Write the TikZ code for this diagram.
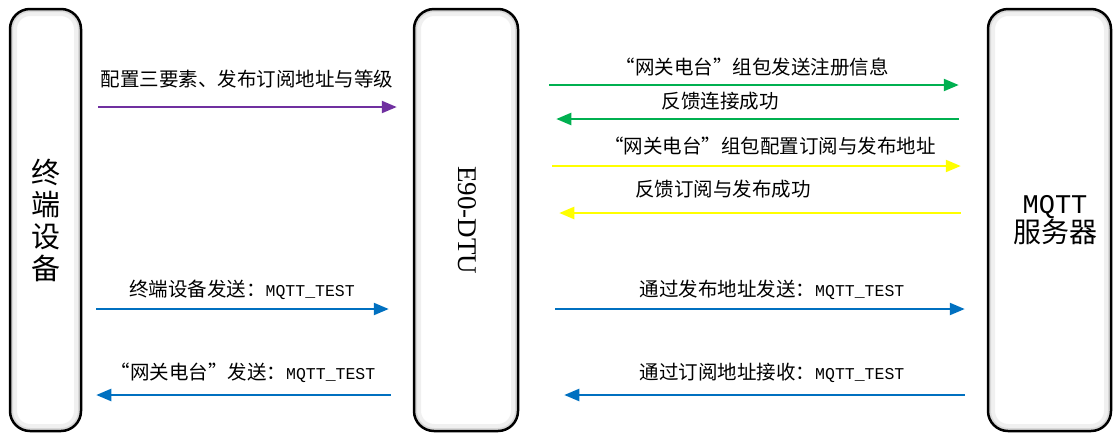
\documentclass[tikz,border=0pt]{standalone}
\usepackage{fontspec}
\usetikzlibrary{arrows.meta}
\newfontfamily\cjk{Noto Sans CJK SC}
\newfontfamily\mono{Liberation Mono}
\newfontfamily\serifrm{Liberation Serif}

\definecolor{msgpurple}{HTML}{7030A0}
\definecolor{msggreen}{HTML}{00B050}
\definecolor{msgyellow}{HTML}{FFFF00}
\definecolor{msgblue}{HTML}{0070C0}

\tikzset{
  party/.style={draw=black, line width=2.5pt, fill=white, rounded corners=20pt,
    minimum height=422pt, inner sep=0pt,
    path picture={
      \draw[gray!12, line width=14pt, rounded corners=20pt]
        (path picture bounding box.south west) rectangle (path picture bounding box.north east);
      \draw[gray!30, line width=6pt, rounded corners=20pt]
        (path picture bounding box.south west) rectangle (path picture bounding box.north east);
    }},
  msg/.style={line width=2.3pt, -{Triangle[length=15pt,width=12pt]}},
  lbl/.style={inner sep=0pt, font=\cjk\fontsize{19.5}{22}\selectfont},
}

\begin{document}
\begin{tikzpicture}[x=1pt, y=-1pt]
  \useasboundingbox (0,0) rectangle (1113,432);

  % --- Define nodes ---
  \node[party, minimum width=71pt] (term) at (45.5,220) {};
  \node[party, minimum width=104pt] (dtu) at (466,220) {};
  \node[party, minimum width=123pt] (server) at (1049.5,220) {};

  % --- Box titles ---
  \node[align=center, inner sep=0pt, font=\cjk\fontsize{29}{32}\selectfont] (termtxt) at (term) {终\\端\\设\\备};
  \node[rotate=-90, inner sep=0pt, font=\serifrm\fontsize{27}{30}\selectfont] (dtutxt) at (467,220) {E90-DTU};
  \node[align=center, inner sep=0pt] (servertxt) at (1055,220)
    {{\mono\fontsize{27}{34}\selectfont MQTT}\\{\cjk\fontsize{28}{34}\selectfont 服务器}};

  % --- Terminal <-> DTU ---
  \draw[msg, msgpurple, shorten <=16pt, shorten >=16pt] (term.east |- 0,107) -- (dtu.west |- 0,107);
  \node[lbl] (cfg) at (247,79) {配置三要素、发布订阅地址与等级};

  \draw[msg, msgblue, shorten <=14pt, shorten >=24pt] (term.east |- 0,309) -- (dtu.west |- 0,309);
  \node[lbl] (tsend) at (242,290) {终端设备发送：{\mono\fontsize{16.5}{20}\selectfont MQTT\_TEST}};

  \draw[msg, msgblue, shorten <=22pt, shorten >=14pt] (dtu.west |- 0,395) -- (term.east |- 0,395);
  \node[lbl] (gsend) at (243,373) {“网关电台”发送：{\mono\fontsize{16.5}{20}\selectfont MQTT\_TEST}};

  % --- DTU <-> MQTT server ---
  \draw[msg, msggreen, shorten <=30pt, shorten >=28pt] (dtu.east |- 0,85) -- (server.west |- 0,85);
  \node[lbl] (reg) at (752,67) {“网关电台”组包发送注册信息};

  \draw[msg, msggreen, shorten <=28pt, shorten >=37pt] (server.west |- 0,119) -- (dtu.east |- 0,119);
  \node[lbl] (regok) at (720,101) {反馈连接成功};

  \draw[msg, msgyellow, shorten <=33pt, shorten >=26pt] (dtu.east |- 0,166) -- (server.west |- 0,166);
  \node[lbl] (sub) at (770,146) {“网关电台”组包配置订阅与发布地址};

  \draw[msg, msgyellow, shorten <=26pt, shorten >=40pt] (server.west |- 0,213) -- (dtu.east |- 0,213);
  \node[lbl] (subok) at (723,189) {反馈订阅与发布成功};

  \draw[msg, msgblue, shorten <=36pt, shorten >=22pt] (dtu.east |- 0,309) -- (server.west |- 0,309);
  \node[lbl] (pub) at (772,290) {通过发布地址发送：{\mono\fontsize{16.5}{20}\selectfont MQTT\_TEST}};

  \draw[msg, msgblue, shorten <=22pt, shorten >=45pt] (server.west |- 0,395) -- (dtu.east |- 0,395);
  \node[lbl] (recv) at (772,373) {通过订阅地址接收：{\mono\fontsize{16.5}{20}\selectfont MQTT\_TEST}};

\end{tikzpicture}
\end{document}
